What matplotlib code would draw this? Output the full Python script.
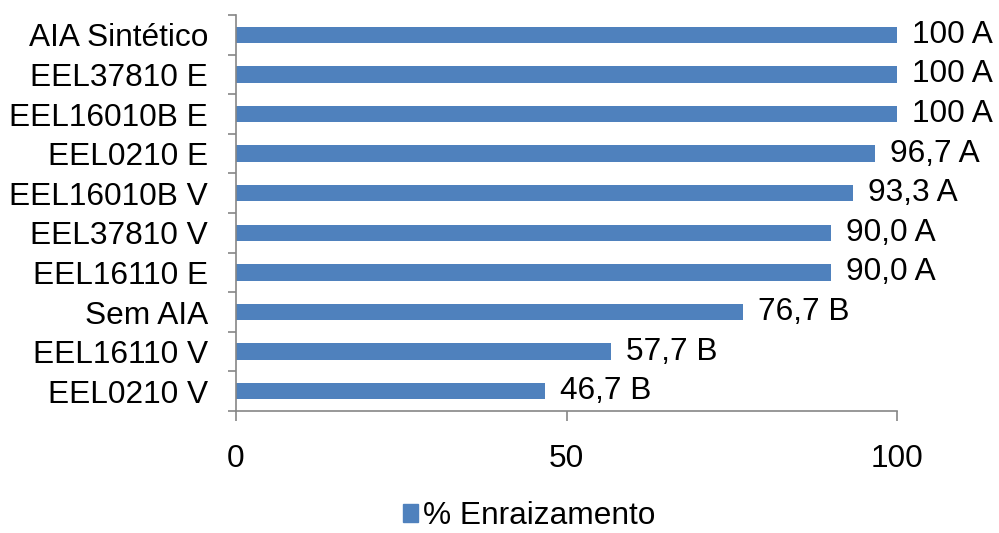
import matplotlib
matplotlib.use("Agg")
import matplotlib.pyplot as plt
from matplotlib.patches import Patch

categorias = ["AIA Sintético", "EEL37810 E", "EEL16010B E", "EEL0210 E", "EEL16010B V",
              "EEL37810 V", "EEL16110 E", "Sem AIA", "EEL16110 V", "EEL0210 V"]
# comprimento das barras (a de EEL16110 V termina em ~56,7)
enraizamento = [100, 100, 100, 96.7, 93.3, 90.0, 90.0, 76.7, 56.7, 46.7]
rotulos = ["100 A", "100 A", "100 A", "96,7 A", "93,3 A", "90,0 A", "90,0 A",
           "76,7 B", "57,7 B", "46,7 B"]
xticks = [0, 50, 100]

cor = "#4F81BD"
cinza = "#868686"
fs = 22.8

plt.rcParams["font.family"] = ["Liberation Sans", "DejaVu Sans"]

fig = plt.figure(figsize=(9.99, 5.33), dpi=100)
ax = fig.add_axes([236 / 999, 1 - 411 / 533, (897 - 236) / 999, (411 - 15) / 533])

pos = list(range(len(categorias)))[::-1]
ax.barh(pos, enraizamento, height=0.41, color=cor, zorder=2)
for p, v, r in zip(pos, enraizamento, rotulos):
    ax.annotate(r, (v, p), xytext=(11, 0), textcoords="offset points",
                ha="left", va="center", fontsize=fs, color="black")

ax.set_xlim(0, 100)
ax.set_ylim(-0.5, len(categorias) - 0.5)
ax.set_yticks(pos)
ax.set_yticklabels(categorias, fontsize=fs)
ax.set_yticks([p - 0.5 for p in range(len(categorias) + 1)], minor=True)
ax.tick_params(axis="y", which="major", length=0, pad=20)
ax.tick_params(axis="y", which="minor", length=6, width=1.2, color=cinza, direction="out")
ax.set_xticks(xticks)
ax.set_xticklabels([str(t) for t in xticks], fontsize=fs)
ax.tick_params(axis="x", length=7, width=1.2, color=cinza, direction="out", pad=17)

for s in ["top", "right"]:
    ax.spines[s].set_visible(False)
for s in ["left", "bottom"]:
    ax.spines[s].set_color(cinza)
    ax.spines[s].set_linewidth(1.2)

fig.legend(handles=[Patch(color=cor, label="% Enraizamento")], loc="center",
           bbox_to_anchor=(529 / 999, 1 - 516 / 533), frameon=False, fontsize=fs,
           handlelength=0.5, handleheight=0.5, handletextpad=0.15,
           borderpad=0.1)

fig.savefig("out.png", dpi=100)
